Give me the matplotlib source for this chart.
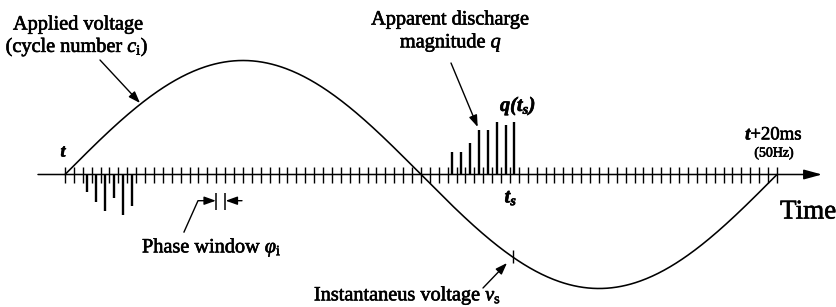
import numpy as np
import matplotlib
matplotlib.use("Agg")
import matplotlib.pyplot as plt
import matplotlib.patheffects as pe

# ---------------- data ----------------
n_windows = 80                 # phase windows per 20 ms cycle (50 Hz)
voltage_amplitude = 1.0        # normalised applied voltage
neg_windows = [2, 3, 4, 5, 6, 7]
neg_magnitudes = [-0.156, -0.237, -0.316, -0.202, -0.355, -0.276]
pos_windows = [43, 44, 45, 46, 47, 48, 49, 50]
pos_magnitudes = [0.193, 0.193, 0.272, 0.39, 0.39, 0.46, 0.434, 0.46]
ts_window = 50                 # window of the discharge at t_s
phase_window_marked = 17       # window highlighted as phi_i

# ---------------- style ----------------
plt.rcParams['font.family'] = ['Liberation Serif', 'DejaVu Serif']
plt.rcParams['mathtext.fontset'] = 'custom'
plt.rcParams['mathtext.rm'] = 'Liberation Serif'
plt.rcParams['mathtext.it'] = 'Liberation Serif:italic'
plt.rcParams['mathtext.bf'] = 'Liberation Serif:bold:italic'

W, H = 837, 307
fig = plt.figure(figsize=(W / 100, H / 100), dpi=100)
ax = fig.add_axes([0, 0, 1, 1])
ax.set_axis_off()

# layout mapping (pixel -> data) for placing annotations
X0, DX, Y0, DY = 65.0, 8.9, 174.5, 114.0
def P(px, py):
    return ((px - X0) / DX, (Y0 - py) / DY)

ax.set_xlim(P(0, 0)[0], P(W, 0)[0])
ax.set_ylim(P(0, H)[1], P(0, 0)[1])

lw_c = 1.15
# applied voltage
w = np.linspace(0, n_windows, 600)
v = voltage_amplitude * np.sin(2 * np.pi * w / n_windows)
ax.plot(w, v, color='black', lw=lw_c, solid_capstyle='round')

# time axis with arrow
xa0 = P(38, 0)[0]
xa1 = P(822, 0)[0]
ax.annotate('', xy=(xa1, 0), xytext=(xa0, 0),
            arrowprops=dict(arrowstyle='-|>,head_length=1.1,head_width=0.3',
                            color='black', lw=1.1, shrinkA=0, shrinkB=0))

# phase window boundaries (ticks)
tick_lo, tick_hi = -8.3 / DY, 8.0 / DY
ax.vlines(np.arange(0, n_windows + 1), tick_lo, tick_hi, color='black', lw=1.0)

# discharges
ax.vlines(np.array(neg_windows) + 0.5, 0, neg_magnitudes, color='black', lw=1.7)
ax.vlines(np.array(pos_windows) + 0.5, 0, pos_magnitudes, color='black', lw=1.7)

# instantaneous voltage mark at t_s
ts = ts_window + 0.3
vts = voltage_amplitude * np.sin(2 * np.pi * ts / n_windows)
ax.vlines([ts], vts - 6 / DY, vts + 7 / DY, color='black', lw=1.0)

# phase window indicator
yb0, yb1 = P(0, 193)[1], P(0, 210)[1]
ax.vlines([phase_window_marked, phase_window_marked + 1], yb1, yb0, color='black', lw=1.1)
ya = P(0, 200.7)[1]
ap = dict(arrowstyle='-|>,head_length=0.7,head_width=0.25', color='black', lw=1.0,
          shrinkA=0, shrinkB=0)
p1, p2, p3 = P(184, 232), P(198, 200.7), P(208, 200.7)
ax.plot([p1[0], p2[0], p3[0]], [p1[1], p2[1], p3[1]], color='black', lw=1.0)
ax.annotate('', xy=(phase_window_marked - 0.05, ya), xytext=(p3[0], ya), arrowprops=ap)
ax.annotate('', xy=(phase_window_marked + 1.05, ya), xytext=P(242, 200.7), arrowprops=ap)

# annotation arrows
ax.annotate('', xy=P(140, 103), xytext=P(100, 60), arrowprops=ap)
ax.annotate('', xy=P(477.7, 127), xytext=P(451, 63), arrowprops=ap)
ax.annotate('', xy=P(507, 263), xytext=P(483, 288), arrowprops=ap)

# texts
fs = 14.6
heavy = [pe.withStroke(linewidth=0.45, foreground='black')]
def T(px, py, s, **kw):
    t = ax.text(*P(px, py), s, **kw)
    t.set_path_effects(heavy)
    return t

T(78, 25, 'Applied voltage', ha='center', va='center', fontsize=fs)
T(77, 47, r'(cycle number $c_{\rm i}$)', ha='center', va='center', fontsize=fs)
T(63, 152, 't', ha='center', va='center', fontsize=13,
  fontstyle='italic', fontweight='bold')
T(142, 248, r'Phase window $\varphi_{\rm i}$', ha='left', va='center', fontsize=fs)
T(450, 20, 'Apparent discharge', ha='center', va='center', fontsize=fs)
T(451, 43, r'magnitude $q$', ha='center', va='center', fontsize=fs)
T(500, 106, r'$\mathbf{q(t_s)}$', ha='left', va='center', fontsize=fs)
T(511, 198, r'$\mathbf{t_s}$', ha='center', va='center', fontsize=fs)
T(774, 135, r'$\mathbf{t}$+20ms', ha='center', va='center', fontsize=13.5)
T(774, 153, '(50Hz)', ha='center', va='center', fontsize=10)
T(780, 212, 'Time', ha='left', va='center', fontsize=19.5)
T(501, 296, r'Instantaneus voltage $v_{\rm s}$', ha='right', va='center', fontsize=fs)

fig.savefig('out.png', dpi=100)
